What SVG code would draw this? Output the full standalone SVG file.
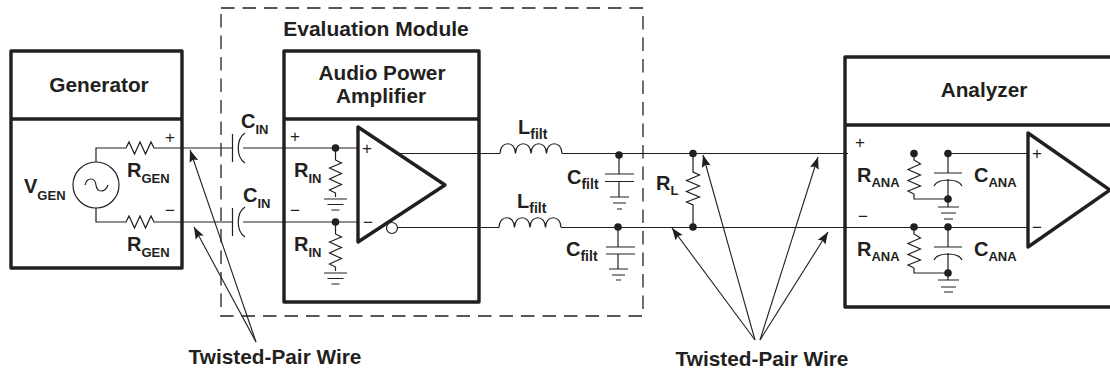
<svg xmlns="http://www.w3.org/2000/svg" width="1110" height="371" viewBox="0 0 1110 371">
<style>
text{font-family:"Liberation Sans",Arial,sans-serif;fill:#231f20}
.t{font-weight:700;font-size:20.8px;text-anchor:middle}
.l{font-weight:700;font-size:20px}
.s{font-size:13px}
.f{font-size:14px}
.p{font-size:17px;text-anchor:middle}
.box{fill:none;stroke:#231f20;stroke-width:3.4;stroke-linejoin:round}
.w{fill:none;stroke:#231f20;stroke-width:1.2;stroke-linejoin:miter}
.a{fill:none;stroke:#231f20;stroke-width:1.1}
.d{fill:#231f20}
.dash{fill:none;stroke:#231f20;stroke-width:1.3;stroke-dasharray:13.500 8}
.ah{fill:#231f20}
</style>
<defs>
<marker id="arr" markerWidth="12" markerHeight="10" refX="12" refY="5" orient="auto" markerUnits="userSpaceOnUse"><path class="ah" d="M0 0.500L12 5L0 9.500L2 5Z"/></marker>
<path id="rh" class="w" d="M0 0h2l3-6l5.500 12l5.500-12l5.500 12l5.500-12l3 6h4"/>
<path id="rv" class="w" d="M0 0v12l6 3l-12 5l12 5.500l-12 5.500l12 5.500l-12 5.500l6 3v4"/>
<path id="ind" class="w" d="M0 0c0-13 15.500-13 15.500 0c0-13 15.500-13 15.500 0c0-13 15.500-13 15.500 0c0-13 15.500-13 15.500 0"/>
<g id="gnd"><path class="w" d="M-11.500 0h23M-8 5.500h16M-4 11h8"/></g>
</defs>

<g id="evaluation-module">
<rect class="dash" x="221" y="8" width="422" height="308"/>
<text class="t" x="376" y="36" style="font-size:21px">Evaluation Module</text>
</g>

<g id="connectors">
<path class="w" d="M96 162V148H124M158 148H232M243 148H358"/>
<path class="w" d="M96 208V222H124M158 222H232M243 222H358"/>
<path class="w" d="M399 153.500H500M562 153.500H848M948 153.500H1028"/>
<path class="w" d="M398 227.500H499M561 227.500H1028"/>
<path class="a" marker-end="url(#arr)" d="M256 342L190 150"/>
<path class="a" marker-end="url(#arr)" d="M256 342L194 227"/>
<path class="a" marker-end="url(#arr)" d="M755 340L672 228"/>
<path class="a" marker-end="url(#arr)" d="M755 340L703 155"/>
<path class="a" marker-end="url(#arr)" d="M760 340L818 157"/>
<path class="a" marker-end="url(#arr)" d="M760 340L828 232"/>
</g>

<g id="generator">
<rect class="box" x="11" y="51" width="171" height="217"/>
<path class="box" d="M11 119H182"/>
<text class="t" x="99" y="92">Generator</text>
<circle class="w" cx="96" cy="185" r="23"/>
<path class="w" d="M85 185c2-8 10-8 11 0s9 8 12 0"/>
<use href="#rh" x="124" y="148"/>
<use href="#rh" x="124" y="222"/>
<text class="p" x="170" y="143">+</text>
<text class="p" x="170" y="216">−</text>
<text class="l" x="24" y="193">V<tspan class="s" dy="7">GEN</tspan></text>
<text class="l" x="127" y="177">R<tspan class="s" dy="6">GEN</tspan></text>
<text class="l" x="127" y="251">R<tspan class="s" dy="6">GEN</tspan></text>
</g>

<g id="c-in-1">
<path class="w" d="M232.500 134V162M245 133C236 139 236 157 245 163"/>
<text class="l" x="241" y="128">C<tspan class="s" dy="6">IN</tspan></text>
</g>
<g id="c-in-2">
<path class="w" d="M232.500 208V236M245 207C236 213 236 231 245 237"/>
<text class="l" x="243" y="202">C<tspan class="s" dy="6">IN</tspan></text>
</g>

<g id="amplifier">
<rect class="box" x="284" y="51" width="195" height="251"/>
<path class="box" d="M284 119H479"/>
<text class="t" x="382" y="80">Audio Power</text>
<text class="t" x="381" y="103">Amplifier</text>
<text class="p" x="295" y="142">+</text>
<text class="p" x="295" y="216">−</text>
<circle class="d" cx="335.500" cy="148" r="3.800"/>
<circle class="d" cx="335.500" cy="222" r="3.800"/>
<use href="#rv" x="335.500" y="148"/>
<use href="#gnd" x="335.500" y="199"/>
<use href="#rv" x="335.500" y="222"/>
<use href="#gnd" x="335.500" y="273"/>
<text class="l" x="294" y="177">R<tspan class="s" dy="6">IN</tspan></text>
<text class="l" x="294" y="251">R<tspan class="s" dy="6">IN</tspan></text>
<path class="box" d="M358 127V242L445 185Z"/>
<circle cx="392" cy="228" r="5.500" fill="#fff" stroke="#231f20" stroke-width="1.200"/>
<text class="p" x="367" y="154">+</text>
<text class="p" x="368" y="228">−</text>
</g>

<g id="l-filt-1">
<use href="#ind" x="500" y="153.500"/>
<text class="l" x="518" y="134">L<tspan class="s f" dy="5">filt</tspan></text>
</g>
<g id="l-filt-2">
<use href="#ind" x="499" y="227.500"/>
<text class="l" x="517" y="208">L<tspan class="s f" dy="5">filt</tspan></text>
</g>

<g id="c-filt-1">
<circle class="d" cx="619" cy="155" r="3.800"/>
<path class="w" d="M619 155V174M605 174H634M605 181.500H634M619 181.500V197M610 197H629M613 203H626M617 209H622"/>
<text class="l" x="567" y="184">C<tspan class="s f" dy="5">filt</tspan></text>
</g>
<g id="c-filt-2">
<circle class="d" cx="618" cy="227" r="3.800"/>
<path class="w" d="M618 227V247M606 247H635M606 254H635M618 254V269M609 269H628M612 275H625M616 280H621"/>
<text class="l" x="566" y="256">C<tspan class="s f" dy="5">filt</tspan></text>
</g>

<g id="r-load">
<circle class="d" cx="693" cy="153.500" r="3.800"/>
<circle class="d" cx="693" cy="227" r="3.800"/>
<path class="w" d="M693 153.500V172L699.500 175L686.500 180.500L699.500 186L686.500 191.500L699.500 197L686.500 202L693 205V227"/>
<text class="l" x="656" y="190">R<tspan class="s" dy="5">L</tspan></text>
</g>

<g id="analyzer">
<path class="box" d="M1112 57H845V307H1112M845 125H1112"/>
<text class="t" x="984" y="97">Analyzer</text>
<text class="p" x="860" y="148">+</text>
<text class="p" x="863" y="222">−</text>
<circle class="d" cx="914" cy="153.500" r="3.800"/>
<circle class="d" cx="948" cy="153.500" r="3.800"/>
<circle class="d" cx="914" cy="227" r="3.800"/>
<circle class="d" cx="948" cy="227" r="3.800"/>
<path class="w" d="M914 153.500V160L920.500 164L908 169.500L920.500 175L908 180.500L920.500 186L908 191L914 194V199H948"/>
<path class="w" d="M914 227V234L920.500 238L908 243.500L920.500 249L908 254.500L920.500 260L908 265L914 268V273H948"/>
<path class="w" d="M948 153.500V173M934 173H962M948 179V207M934 186C938 178 958 178 962 186"/>
<path class="w" d="M948 227V247M934 247H962M948 253V280M934 260C938 252 958 252 962 260"/>
<circle class="d" cx="948" cy="199" r="3.800"/>
<circle class="d" cx="948" cy="273" r="3.800"/>
<path class="w" d="M938 207H959M941 213H956M944 219H953"/>
<path class="w" d="M938 280H959M941 287H956M944 292H953"/>
<text class="l" x="857" y="182">R<tspan class="s" dy="5">ANA</tspan></text>
<text class="l" x="857" y="256">R<tspan class="s" dy="5">ANA</tspan></text>
<text class="l" x="974" y="182">C<tspan class="s" dy="5">ANA</tspan></text>
<text class="l" x="974" y="256">C<tspan class="s" dy="5">ANA</tspan></text>
<path class="box" d="M1028 133V247L1110 190Z"/>
<text class="p" x="1037" y="159">+</text>
<text class="p" x="1037" y="233">−</text>
</g>

<g id="labels">
<text class="t" x="275" y="364">Twisted-Pair Wire</text>
<text class="t" x="762" y="366">Twisted-Pair Wire</text>
</g>
</svg>
